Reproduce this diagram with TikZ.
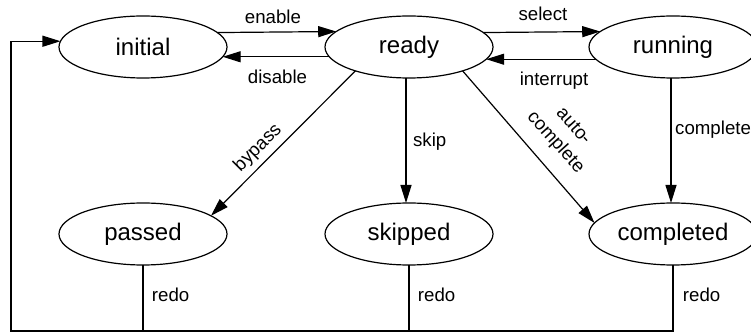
\documentclass[tikz,border=0pt]{standalone}
\usepackage{fontspec}
\setmainfont{Liberation Sans}
\usetikzlibrary{arrows.meta,shapes.geometric}
\begin{document}
\begin{tikzpicture}[x=1pt,y=1pt,
  state/.style={draw, ellipse, line width=1.2pt, minimum width=168pt, minimum height=62pt, inner sep=0pt, outer sep=0pt, font=\fontsize{24}{28}\selectfont},
  arr/.style={line width=1.2pt, -{Triangle[length=18pt,width=11pt]}},
  ln/.style={line width=1.2pt},
  lbl/.style={font=\fontsize{18.67}{24}\selectfont, inner sep=0pt}]
\useasboundingbox (0,0) rectangle (751,-336);
% states
\node[state] (initial)   at (143,-47)  {initial};
\node[state] (ready)     at (409,-47)  {ready};
\node[state] (running)   at (673,-47)  {running};
\node[state] (passed)    at (143,-234) {passed};
\node[state] (skipped)   at (409,-234) {skipped};
\node[state] (completed) at (673,-234) {completed};
% horizontal transitions
\draw[arr] (initial.11.5) -- (ready.168.5);
\draw[arr] (ready.187.17) -- (initial.-7.17);
\draw[arr] (ready.11.5) -- (running.168.5);
\draw[arr] (running.189.67) -- (ready.-9.67);
% downward transitions
\draw[arr] (ready.204) -- (passed.15);
\draw[arr] ([xshift=-3pt]ready.south) -- ([xshift=-3pt]skipped.north);
\draw[arr] (ready.336) -- (completed.172);
\draw[arr] ([xshift=-2pt]running.south) -- ([xshift=-2pt]completed.north);
% redo loop
\coordinate (bl) at (11,-331);
\draw[ln] (passed.south) -- (passed.south |- bl);
\draw[ln] (skipped.south) -- (skipped.south |- bl);
\draw[arr] (completed.south) |- (bl) |- (initial.176.5);
% labels
\node[lbl, anchor=base] (lenable) at (273,-23.3) {enable};
\node[lbl, anchor=base] (ldisable) at (277.5,-83.3) {disable};
\node[lbl, anchor=base] (lselect) at (543,-21) {select};
\node[lbl, anchor=base] (linterrupt) at (554,-86) {interrupt};
\node[lbl, anchor=base] (lskip) at (429.7,-146.7) {skip};
\node[lbl, anchor=base west] (lcomplete) at (675,-135) {complete};
\node[lbl, rotate=45] (lbypass) at (258,-148) {bypass};
\node[lbl, rotate=-48, align=center] (lauto) at (564,-135) {auto-\\complete};
\node[lbl, anchor=base west] (lredo1) at (151.7,-301.7) {redo};
\node[lbl, anchor=base west] (lredo2) at (417.7,-301.7) {redo};
\node[lbl, anchor=base west] (lredo3) at (682.7,-301.7) {redo};
\end{tikzpicture}
\end{document}
